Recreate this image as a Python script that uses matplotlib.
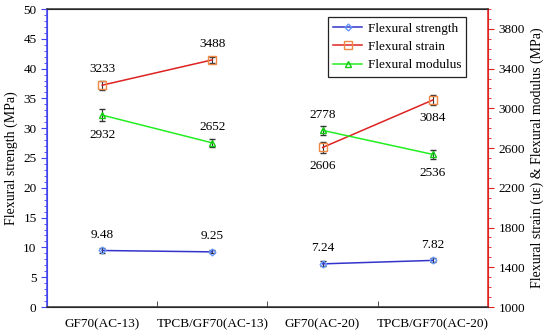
import numpy as np
import matplotlib
matplotlib.use('Agg')
import matplotlib.pyplot as plt
from matplotlib.ticker import MultipleLocator, FixedLocator
from matplotlib.lines import Line2D

plt.rcParams['font.family'] = ['Liberation Serif', 'DejaVu Serif']
plt.rcParams['font.size'] = 9.5

groups = ['GF70(AC-13)', 'TPCB/GF70(AC-13)', 'GF70(AC-20)', 'TPCB/GF70(AC-20)']
strength = [9.48, 9.25, 7.24, 7.82]
strength_err = [0.45, 0.25, 0.4, 0.35]
strain = [3233, 3488, 2606, 3084]
strain_err = [45, 30, 60, 55]
modulus = [2932, 2652, 2778, 2536]
modulus_err = [60, 40, 45, 45]

x = np.arange(1, len(groups) + 1)

fig = plt.figure(figsize=(5.5, 3.36), dpi=100)
ax = fig.add_axes([47/550, 1 - 307/336, 441/550, 298/336])
ax2 = ax.twinx()

blue = '#3333cc'
red = '#dd2222'
green = '#22ee22'

sty_s = dict(color=blue, lw=1.1, marker='D', ms=3.5, mfc='none', mec='#6699ff')
sty_e = dict(color=red, lw=1.1, marker='s', ms=5.5, mfc='none', mec='#ee8844')
sty_m = dict(color=green, lw=1.1, marker='^', ms=5, mfc='none', mec='#11cc11')
err = dict(ecolor='#333333', elinewidth=0.8, capsize=2.5)

for sl in (slice(0, 2), slice(2, 4)):
    ax.errorbar(x[sl], strength[sl], yerr=strength_err[sl], **sty_s, **err)
    ax2.errorbar(x[sl], strain[sl], yerr=strain_err[sl], **sty_e, **err)
    ax2.errorbar(x[sl], modulus[sl], yerr=modulus_err[sl], **sty_m, **err)

# value labels
for i in range(4):
    ax.annotate(f'{strength[i]:.2f}', (x[i], strength[i]), xytext=(0, 7),
                textcoords='offset points', ha='center', va='bottom')
strain_off = [7, 7, -9, -9]
mod_off = [-10, 7, 7, -9]
for i in range(4):
    ax2.annotate(str(strain[i]), (x[i], strain[i]), xytext=(0, strain_off[i]),
                 textcoords='offset points', ha='center',
                 va='bottom' if strain_off[i] > 0 else 'top')
    ax2.annotate(str(modulus[i]), (x[i], modulus[i]), xytext=(0, mod_off[i]),
                 textcoords='offset points', ha='center',
                 va='bottom' if mod_off[i] > 0 else 'top')

ax.set_xlim(0.5, 4.5)
ax.set_ylim(0, 50)
ax2.set_ylim(1000, 4000)
ax.set_xticks(x)
ax.set_xticklabels(groups)
ax.tick_params(axis='x', length=0, pad=8)
ax.xaxis.set_minor_locator(FixedLocator([1.5, 2.5, 3.5]))
ax.tick_params(axis='x', which='minor', direction='in', length=4, color='#333333')

ax.yaxis.set_major_locator(MultipleLocator(5))
ax.yaxis.set_minor_locator(MultipleLocator(1))
ax.tick_params(axis='y', which='major', color='#4444ee', direction='out', length=4)
ax.tick_params(axis='y', which='minor', color='#4444ee', direction='out', length=2)
ax2.set_yticks(np.arange(1000, 4000, 400))
ax2.yaxis.set_minor_locator(MultipleLocator(100))
ax2.tick_params(axis='y', which='major', color=red, direction='out', length=4)
ax2.tick_params(axis='y', which='minor', color=red, direction='out', length=2)

ax2.spines['left'].set_color('#4444ee')
ax2.spines['right'].set_color(red)
ax2.spines['top'].set_color('#333333')
ax2.spines['bottom'].set_color('#333333')
ax.spines['left'].set_color('#4444ee')
ax.spines['right'].set_color(red)
for s in ax2.spines.values():
    s.set_linewidth(1.1)

ax.set_ylabel('Flexural strength (MPa)', fontsize=10)
ax2.set_ylabel('Flexural strain (u\u03b5) & Flexural modulus (MPa)', fontsize=10)

handles = [Line2D([], [], **sty_s), Line2D([], [], **sty_e), Line2D([], [], **sty_m)]
leg = ax2.legend(handles, ['Flexural strength', 'Flexural strain', 'Flexural modulus'],
                 loc='upper right', bbox_to_anchor=(0.96, 0.985), fancybox=False,
                 edgecolor='#222222', framealpha=1, handlelength=2.2,
                 borderaxespad=0.3, labelspacing=0.45, handletextpad=0.4)
leg.get_frame().set_linewidth(0.9)

plt.savefig('out.png', dpi=100)
